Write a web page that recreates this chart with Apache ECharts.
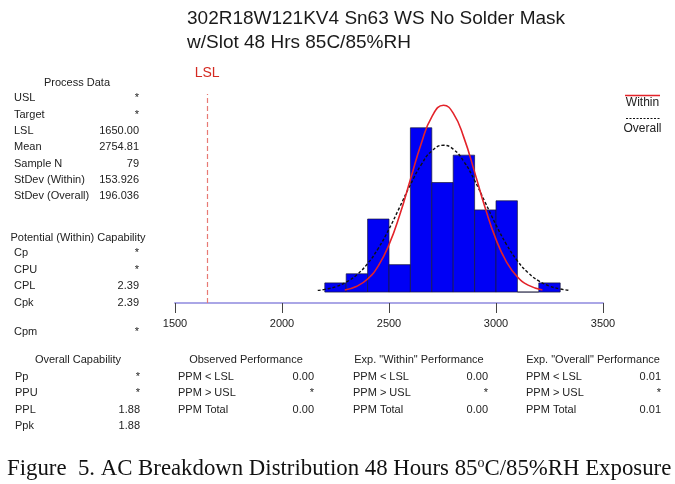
<!DOCTYPE html>
<html>
<head>
<meta charset="utf-8">
<script src="https://cdn.jsdelivr.net/npm/echarts@6/dist/echarts.min.js"></script>
<style>
  html, body { margin: 0; padding: 0; background: #fff; }
  #main { width: 675px; height: 484px; }
</style>
</head>
<body>
<div id="main"></div>
<script>
// histogram bins (left edge, right edge) and counts
var binLeft = [2200, 2300, 2400, 2500, 2600, 2700, 2800, 2900, 3000, 3100, 3200];
var binRight = [2300, 2400, 2500, 2600, 2700, 2800, 2900, 3000, 3100, 3200, 3300];
var binCount = [1, 2, 8, 3, 18, 12, 15, 9, 10, 0, 1];

// fitted curves
var withinX = [2293, 2350, 2400, 2450, 2500, 2550, 2600, 2650, 2700, 2755, 2800, 2850, 2900, 2950, 3000, 3050, 3100, 3150, 3217];
var withinY = [0.23, 0.64, 1.43, 2.87, 5.19, 8.43, 12.33, 16.22, 19.2, 20.47, 19.6, 16.92, 13.14, 9.17, 5.77, 3.26, 1.66, 0.76, 0.23];
var overallX = [2167, 2200, 2250, 2300, 2350, 2400, 2450, 2500, 2550, 2600, 2650, 2700, 2755, 2800, 2850, 2900, 2950, 3000, 3050, 3100, 3150, 3200, 3250, 3300, 3343];
var overallY = [0.18, 0.29, 0.58, 1.09, 1.9, 3.12, 4.79, 6.9, 9.31, 11.76, 13.93, 15.46, 16.08, 15.66, 14.3, 12.23, 9.8, 7.36, 5.18, 3.42, 2.11, 1.22, 0.66, 0.34, 0.18];

var lsl = 1650;
var xTicks = [1500, 2000, 2500, 3000, 3500];

// text tables
var processLabels = ['USL', 'Target', 'LSL', 'Mean', 'Sample N', 'StDev (Within)', 'StDev (Overall)'];
var processValues = ['*', '*', '1650.00', '2754.81', '79', '153.926', '196.036'];
var potentialLabels = ['Cp', 'CPU', 'CPL', 'Cpk'];
var potentialValues = ['*', '*', '2.39', '2.39'];
var cpmLabel = 'Cpm', cpmValue = '*';
var overallCapLabels = ['Pp', 'PPU', 'PPL', 'Ppk'];
var overallCapValues = ['*', '*', '1.88', '1.88'];
var ppmLabels = ['PPM < LSL', 'PPM > USL', 'PPM Total'];
var observedValues = ['0.00', '*', '0.00'];
var expWithinValues = ['0.00', '*', '0.00'];
var expOverallValues = ['0.01', '*', '0.01'];

var FONT = 'Liberation Sans, Arial, sans-serif';
var SERIF = 'Liberation Serif, Times New Roman, serif';
var TXT = '#222';

function pairs(xs, ys) {
  var out = [];
  for (var i = 0; i < xs.length; i++) out.push([xs[i], ys[i]]);
  return out;
}

function txt(x, y, s, align, size, color) {
  return {
    type: 'text', x: x, y: y, silent: true,
    style: { text: s, fontFamily: FONT, fontSize: size || 11, fill: color || TXT,
             textAlign: align || 'left', textVerticalAlign: 'middle' }
  };
}

// header + rows of label/value
function table(head, headX, headY, labels, values, labelX, valueX, rowY, step) {
  var g = [txt(headX, headY, head, 'center')];
  for (var i = 0; i < labels.length; i++) {
    g.push(txt(labelX, rowY + i * step, labels[i], 'left'));
    g.push(txt(valueX, rowY + i * step, values[i], 'right'));
  }
  return g;
}

var graphics = [];
graphics = graphics.concat(table('Process Data', 77, 82.5, processLabels, processValues, 14, 139, 98.3, 16.3));
graphics = graphics.concat(table('Potential (Within) Capability', 78, 237.7, potentialLabels, potentialValues, 14, 139, 252.9, 16.6));
graphics.push(txt(14, 331.7, cpmLabel, 'left'));
graphics.push(txt(139, 331.7, cpmValue, 'right'));
graphics = graphics.concat(table('Overall Capability', 78, 360, overallCapLabels, overallCapValues, 15, 140, 377.3, 16.1));
graphics = graphics.concat(table('Observed Performance', 246, 360, ppmLabels, observedValues, 178, 314, 377.3, 16.1));
graphics = graphics.concat(table('Exp. "Within" Performance', 419, 360, ppmLabels, expWithinValues, 353, 488, 377.3, 16.1));
graphics = graphics.concat(table('Exp. "Overall" Performance', 593, 360, ppmLabels, expOverallValues, 526, 661, 377.3, 16.1));

// legend at right
graphics.push({ type: 'line', silent: true, shape: { x1: 625, y1: 95.5, x2: 660, y2: 95.5 },
  style: { stroke: '#e3232a', lineWidth: 1.3 } });
graphics.push(txt(642.5, 102.5, 'Within', 'center', 12));
graphics.push({ type: 'line', silent: true, shape: { x1: 626, y1: 118.5, x2: 660, y2: 118.5 },
  style: { stroke: '#111', lineWidth: 1.2, lineDash: [2, 1.5] } });
graphics.push(txt(642.5, 129, 'Overall', 'center', 12));

// caption
graphics.push({
  type: 'text', x: 7, y: 469, silent: true,
  style: {
    text: 'Figure  5. AC Breakdown Distribution 48 Hours 85{sup|o}C/85%RH Exposure',
    fontFamily: SERIF, fontSize: 22.8, fill: '#111',
    textVerticalAlign: 'middle',
    rich: { sup: { fontSize: 14, fontFamily: SERIF, fill: '#111', padding: [0, 0, 12, 0] } }
  }
});

var chart = echarts.init(document.getElementById('main'), null, { renderer: 'canvas' });
chart.setOption({
  backgroundColor: '#fff',
  animation: false,
  title: {
    text: '302R18W121KV4 Sn63 WS No Solder Mask\nw/Slot 48 Hrs 85C/85%RH',
    left: 182, top: 2,
    textStyle: { fontFamily: FONT, fontSize: 19, fontWeight: 'normal', color: '#1a1a1a', lineHeight: 24 }
  },
  grid: { left: 175, right: 72, top: 94, bottom: 181 },
  xAxis: {
    type: 'value', min: 1500, max: 3500, interval: 500,
    axisLine: { onZero: false, lineStyle: { color: '#aaa6e6', width: 2 } },
    axisTick: { length: 10, lineStyle: { color: '#444', width: 1 } },
    axisLabel: { margin: 15, fontFamily: FONT, fontSize: 11, color: TXT,
      customValues: xTicks, formatter: function (v) { return String(v); } },
    splitLine: { show: false }
  },
  yAxis: {
    type: 'value', min: -1.2, max: 21.7, show: false,
    splitLine: { show: false }
  },
  graphic: graphics,
  series: [
    {
      name: 'Histogram',
      type: 'custom',
      data: binLeft.map(function (b, i) { return [b, binRight[i], binCount[i]]; }),
      encode: { x: [0, 1], y: 2 },
      renderItem: function (params, api) {
        var p0 = api.coord([api.value(0), api.value(2)]);
        var p1 = api.coord([api.value(1), 0]);
        return {
          type: 'rect',
          shape: { x: p0[0], y: p0[1], width: p1[0] - p0[0], height: p1[1] - p0[1] },
          style: { fill: '#0000f5', stroke: '#1a1a3a', lineWidth: 0.7 }
        };
      }
    },
    {
      name: 'Overall',
      type: 'line',
      smooth: true,
      showSymbol: false,
      data: pairs(overallX, overallY),
      lineStyle: { color: '#111', width: 1.4, type: [3, 2] }
    },
    {
      name: 'Within',
      type: 'line',
      smooth: true,
      showSymbol: false,
      data: pairs(withinX, withinY),
      lineStyle: { color: '#e3232a', width: 1.6 }
    },
    {
      name: 'LSL',
      type: 'line',
      data: [],
      markLine: {
        silent: true,
        symbol: 'none',
        lineStyle: { color: '#e87a74', type: [5, 3], width: 1.2 },
        label: { show: true, position: 'end', distance: 14, formatter: 'LSL',
          fontFamily: FONT, fontSize: 14, color: '#d42a22' },
        data: [{ xAxis: lsl }]
      }
    }
  ]
});
</script>
</body>
</html>
